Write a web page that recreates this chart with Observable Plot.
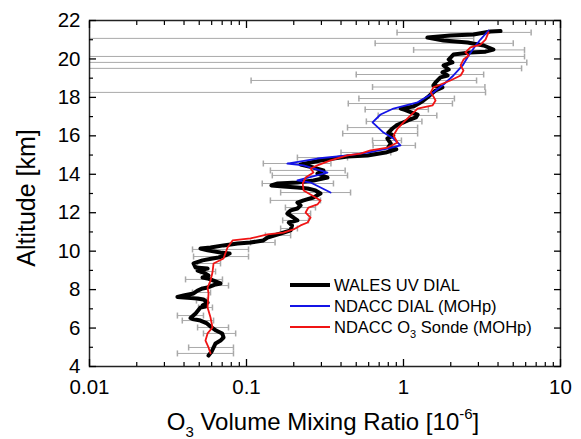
<!DOCTYPE html>
<html><head><meta charset="utf-8">
<script src="https://cdn.jsdelivr.net/npm/d3@7"></script>
<script src="https://cdn.jsdelivr.net/npm/@observablehq/plot@0.6"></script>
<style>body{margin:0;background:#fff} svg{display:block}</style>
</head><body><div id="chart"></div>
<script>
// WALES UV DIAL profile (altitude km, O3 VMR ppm)
const walesAlt = [4.57,4.78,5.20,5.35,5.51,5.72,5.87,6.03,6.24,6.39,6.47,6.52,6.76,7.07,7.12,7.17,7.33,7.49,7.54,7.57,7.62,7.69,7.80,7.95,8.06,8.11,8.21,8.27,8.32,8.47,8.58,8.63,8.73,8.89,8.99,9.10,9.15,9.36,9.52,9.62,9.67,9.78,9.88,9.93,10.04,10.14,10.19,10.30,10.40,10.45,10.56,10.71,10.92,11.08,11.34,11.49,11.60,11.75,11.96,12.12,12.22,12.38,12.53,12.64,12.79,13.00,13.16,13.26,13.31,13.36,13.42,13.52,13.57,13.68,13.83,14.04,14.20,14.35,14.51,14.72,14.82,14.93,14.98,15.13,15.30,15.40,15.60,15.86,16.02,16.17,16.38,16.54,16.70,16.85,16.96,17.10,17.22,17.35,17.42,17.52,17.68,17.84,18.00,18.15,18.36,18.52,18.62,18.78,19.04,19.14,19.30,19.45,19.66,19.82,19.97,20.23,20.34,20.38,20.49,20.70,20.86,20.96,21.12,21.22,21.27,21.43,21.45];
const walesO3 = [0.0573,0.060,0.0635,0.0683,0.0714,0.070,0.064,0.060,0.056,0.0509,0.0453,0.044,0.0474,0.0509,0.0548,0.0525,0.0565,0.0532,0.0488,0.0421,0.0363,0.0397,0.046,0.0488,0.0525,0.0565,0.0607,0.0635,0.0683,0.0617,0.0565,0.0525,0.0573,0.0532,0.0488,0.0565,0.0474,0.046,0.0525,0.0607,0.0664,0.0735,0.078,0.0683,0.0565,0.0509,0.059,0.0714,0.0877,0.106,0.128,0.136,0.165,0.191,0.195,0.186,0.211,0.199,0.182,0.191,0.211,0.221,0.211,0.231,0.267,0.296,0.275,0.245,0.211,0.172,0.144,0.158,0.211,0.267,0.328,0.283,0.309,0.267,0.221,0.296,0.358,0.44,0.59,0.768,0.90,0.80,0.83,0.79,0.86,0.80,0.85,0.90,1.00,1.10,1.20,1.23,1.12,1.02,0.96,1.15,1.25,1.34,1.42,1.49,1.60,1.77,1.55,1.60,1.72,1.91,1.77,1.94,1.80,2.05,1.94,2.08,2.67,3.33,3.74,3.24,2.56,1.80,1.42,1.99,2.79,3.58,4.15];

// NDACC DIAL (MOHp)
const dialAlt = [13.05,13.57,13.68,14.09,14.46,14.56,14.82,14.98,15.13,15.34,15.50,15.86,16.17,16.70,17.11,17.42,17.74,18.15,18.67,19.14,19.66,20.18,20.70,21.01,21.48];
const dialO3 = [0.343,0.256,0.211,0.328,0.231,0.182,0.283,0.44,0.59,0.791,0.957,0.863,0.746,0.635,0.714,0.863,1.23,1.49,1.80,2.08,2.38,2.60,2.88,3.09,3.48];

// NDACC O3 Sonde (MOHp)
const sondeAlt = [4.68,4.99,5.35,5.72,6.03,6.55,7.07,7.80,8.11,8.47,8.89,9.36,9.62,10.19,10.56,10.66,10.87,10.97,11.13,11.34,11.49,11.75,12.01,12.27,12.43,12.64,12.90,13.16,13.52,13.83,14.09,14.30,14.46,14.72,14.98,15.08,15.24,15.39,15.65,16.02,16.38,16.70,17.06,17.42,17.58,17.84,18.05,18.26,18.52,18.67,18.88,19.14,19.40,19.66,19.97,20.18,20.34,20.60,20.75,21.01,21.38];
const sondeO3 = [0.059,0.0573,0.0548,0.0565,0.0607,0.059,0.0565,0.0573,0.0565,0.059,0.0607,0.0617,0.0714,0.0757,0.0815,0.106,0.136,0.172,0.199,0.221,0.245,0.256,0.238,0.248,0.283,0.296,0.262,0.231,0.228,0.238,0.267,0.256,0.283,0.343,0.44,0.532,0.617,0.791,0.916,0.863,0.916,1.00,1.11,1.23,1.53,1.60,1.55,1.49,1.55,1.72,1.99,2.31,2.41,2.31,2.41,2.60,2.48,2.67,3.09,3.33,3.48];

// WALES error bars
const errAlt = [21.38,21.07,20.81,20.47,20.13,19.82,19.51,19.19,18.88,18.54,18.26,17.94,17.68,17.37,17.06,16.75,16.43,16.12,15.76,15.50,15.13,14.87,14.56,14.20,13.94,13.52,13.05,12.64,12.27,11.96,11.60,11.18,10.82,10.45,10.09,9.72,9.36,8.94,8.53,8.21,7.85,7.43,7.07,6.65,6.39,6.03,5.72,4.99,4.68];
const errLo = [0.91,0.001,0.66,1.16,0.001,0.001,0.001,0.50,0.107,0.635,0.001,0.52,0.445,0.57,0.69,0.58,0.44,0.41,0.635,0.64,0.40,0.211,0.128,0.142,0.146,0.126,0.165,0.142,0.177,0.182,0.170,0.165,0.132,0.106,0.0453,0.046,0.0488,0.0509,0.0409,0.059,0.0453,0.048,0.0495,0.0363,0.039,0.0488,0.0532,0.0428,0.0363];
const errHi = [6.5,2.8,5.0,5.9,5.9,6.1,5.65,3.24,2.92,3.3,3.33,2.11,2.05,1.44,1.63,1.31,1.23,1.23,0.97,1.19,0.83,0.44,0.345,0.425,0.44,0.358,0.46,0.296,0.275,0.256,0.248,0.211,0.191,0.152,0.103,0.103,0.0683,0.0635,0.0703,0.0768,0.059,0.056,0.0607,0.0532,0.0617,0.0768,0.0853,0.0826,0.0826];

// axis ticks
const xMajor = [0.01, 0.1, 1, 10];
const xMinor = [0.02,0.03,0.04,0.05,0.06,0.07,0.08,0.09,0.2,0.3,0.4,0.5,0.6,0.7,0.8,0.9,2,3,4,5,6,7,8,9];
const yMajor = [4,6,8,10,12,14,16,18,20,22];
const yMinor = [5,7,9,11,13,15,17,19,21];

const wales = walesAlt.map((a, i) => ({alt: a, o3: walesO3[i]}));
const dial = dialAlt.map((a, i) => ({alt: a, o3: dialO3[i]}));
const sonde = sondeAlt.map((a, i) => ({alt: a, o3: sondeO3[i]}));
const errs = errAlt.map((a, i) => ({alt: a, lo: errLo[i], hi: errHi[i]}));

const capSymbol = {draw(ctx, size) { const h = Math.sqrt(size / Math.PI); ctx.moveTo(0, -h); ctx.lineTo(0, h); }};
const gray = "#a9a9a9";
const FONT = "'Liberation Sans', Arial, Helvetica, sans-serif";

const svg = Plot.plot({
  width: 581, height: 439,
  marginLeft: 89, marginRight: 21, marginTop: 20, marginBottom: 73,
  x: {type: "log", domain: [0.01, 10]},
  y: {domain: [4, 22]},
  style: {fontFamily: FONT, background: "white", color: "black"},
  marks: [
    Plot.ruleY(errs, {y: "alt", x1: "lo", x2: "hi", stroke: gray, strokeWidth: 1, clip: true}),
    Plot.dot(errs, {x: "lo", y: "alt", symbol: capSymbol, r: 3, stroke: gray, fill: "none", clip: true}),
    Plot.dot(errs, {x: "hi", y: "alt", symbol: capSymbol, r: 3, stroke: gray, fill: "none", clip: true}),
    Plot.line(wales, {x: "o3", y: "alt", stroke: "black", strokeWidth: 4, strokeLinejoin: "round"}),
    Plot.line(dial, {x: "o3", y: "alt", stroke: "#1414e6", strokeWidth: 1.8}),
    Plot.line(sonde, {x: "o3", y: "alt", stroke: "#f01414", strokeWidth: 1.8}),
    Plot.frame({stroke: "#222", strokeWidth: 1.5}),
    Plot.axisX(xMajor, {anchor: "bottom", tickSize: 0, tickPadding: 13, fontSize: 20.5, tickFormat: d => String(d), label: null}),
    Plot.axisX(xMajor, {anchor: "bottom", tickSize: -7, fill: "none", strokeWidth: 1.3}),
    Plot.axisX(xMinor, {anchor: "bottom", tickSize: -4, fill: "none", strokeWidth: 1.2}),
    Plot.axisX(xMajor, {anchor: "top", tickSize: -7, fill: "none", strokeWidth: 1.3}),
    Plot.axisX(xMinor, {anchor: "top", tickSize: -4, fill: "none", strokeWidth: 1.2}),
    Plot.axisY(yMajor, {anchor: "left", tickSize: 0, tickPadding: 9, fontSize: 20.5, label: null}),
    Plot.axisY(yMajor, {anchor: "left", tickSize: -7, fill: "none", strokeWidth: 1.3}),
    Plot.axisY(yMinor, {anchor: "left", tickSize: -4, fill: "none", strokeWidth: 1.2}),
    Plot.axisY(yMajor, {anchor: "right", tickSize: -7, fill: "none", strokeWidth: 1.3}),
    Plot.axisY(yMinor, {anchor: "right", tickSize: -4, fill: "none", strokeWidth: 1.2})
  ]
});
document.getElementById("chart").appendChild(svg);

const s = d3.select(svg);
// axis titles
s.append("text").attr("transform", "translate(35,198) rotate(-90)")
  .attr("text-anchor", "middle").attr("font-family", FONT).attr("font-size", 25).attr("fill", "black")
  .text("Altitude [km]");
const xt = s.append("text").attr("x", 323).attr("y", 430)
  .attr("text-anchor", "middle").attr("font-family", FONT).attr("font-size", 24).attr("fill", "black");
xt.append("tspan").text("O");
xt.append("tspan").attr("font-size", 15).attr("dy", 7).text("3");
xt.append("tspan").attr("dy", -7).text(" Volume Mixing Ratio [10");
xt.append("tspan").attr("font-size", 15).attr("dy", -11).text("-6");
xt.append("tspan").attr("dy", 11).text("]");

// legend
const legend = [
  {label: ["WALES UV DIAL"], color: "black", w: 4, y: 285},
  {label: ["NDACC DIAL (MOHp)"], color: "#1414e6", w: 1.8, y: 306},
  {label: ["NDACC O", "3", " Sonde (MOHp)"], color: "#f01414", w: 1.8, y: 327}
];
legend.forEach(l => {
  s.append("line").attr("x1", 290).attr("x2", 330).attr("y1", l.y).attr("y2", l.y)
    .attr("stroke", l.color).attr("stroke-width", l.w);
  const t = s.append("text").attr("x", 334).attr("y", l.y + 6).attr("text-anchor", "start")
    .attr("font-family", FONT).attr("font-size", 16.5).attr("fill", "black");
  if (l.label.length === 1) t.text(l.label[0]);
  else {
    t.append("tspan").text(l.label[0]);
    t.append("tspan").attr("font-size", 11).attr("dy", 5).text(l.label[1]);
    t.append("tspan").attr("dy", -5).text(l.label[2]);
  }
});
</script>
</body></html>
